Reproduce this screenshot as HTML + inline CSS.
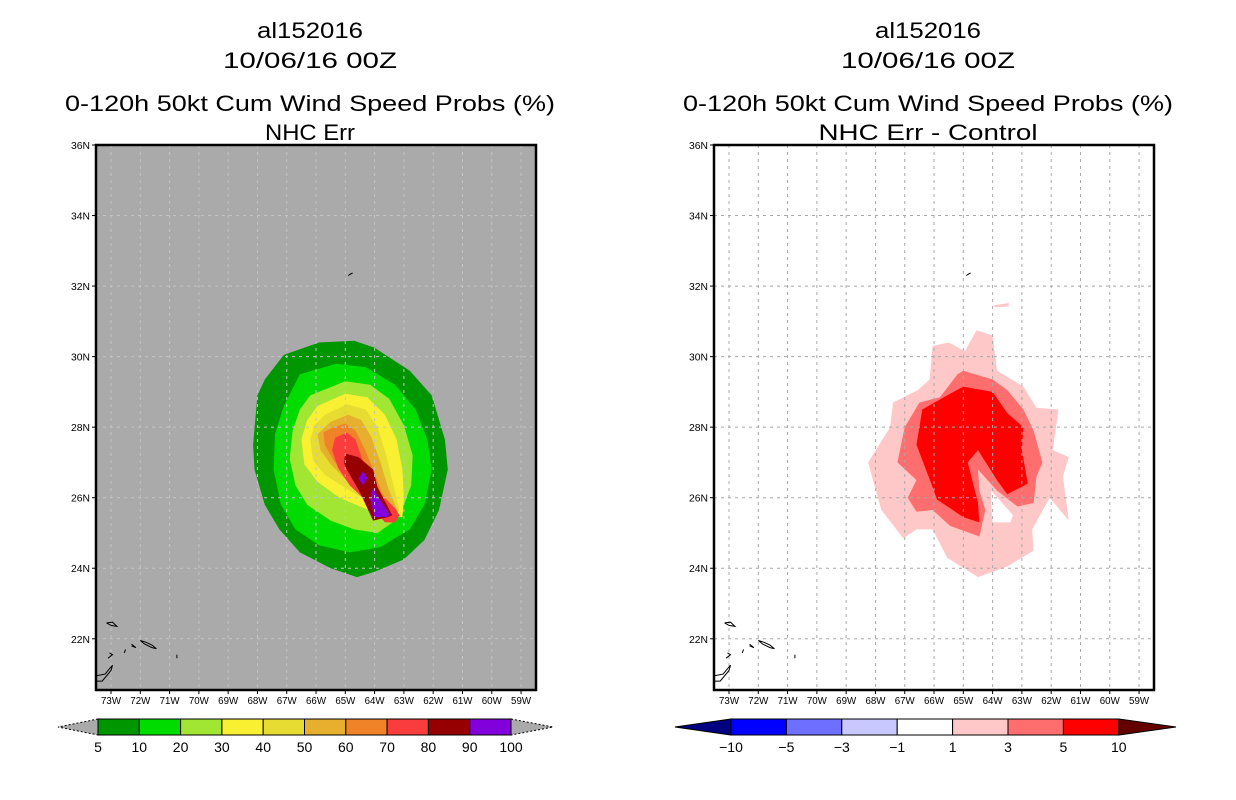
<!DOCTYPE html>
<html><head><meta charset="utf-8"><style>
html,body{margin:0;padding:0;background:#fff;}
svg{display:block;font-family:"Liberation Sans",sans-serif;}
</style></head><body>
<svg id="chart" width="1236" height="800" viewBox="0 0 1236 800" xmlns="http://www.w3.org/2000/svg"></svg>
<script>
// ---- data ----
const latTicks = [36,34,32,30,28,26,24,22];
const lonTicks = [-73,-72,-71,-70,-69,-68,-67,-66,-65,-64,-63,-62,-61,-60,-59];
const leftLevels = ["5","10","20","30","40","50","60","70","80","90","100"];
const leftColors = ["#009600","#00dc00","#a0e632","#faf032","#e6dc32","#e6af2d","#f08228","#fa3c3c","#960000","#8200dc"];
const rightLevels = ["-10","-5","-3","-1","1","3","5","10"];
const rightColors = ["#0000ff","#6e6eff","#c8c8ff","#ffffff","#ffc8c8","#ff6e6e","#ff0000"];
const rightTipColors = ["#000080","#640000"];

// probability contour polygons [lon,lat]
const prob5 = [[-67.1,30.05],[-65.9,30.4],[-64.7,30.45],[-64,30.25],[-62.8,29.6],[-62.05,28.9],[-61.6,27.65],[-61.5,26.8],[-61.8,25.65],[-62.3,24.8],[-63,24.25],[-64,23.9],[-64.6,23.75],[-65.5,24],[-66.55,24.45],[-67.25,25.1],[-67.75,25.8],[-68.1,26.8],[-68.15,27.5],[-68,28.9],[-67.75,29.35]];
const prob10 = [[-66.55,29.5],[-65.3,29.8],[-64.3,29.7],[-63.3,29.2],[-62.6,28.5],[-62.2,27.65],[-62.05,26.8],[-62.3,25.8],[-62.8,25.1],[-63.8,24.6],[-64.85,24.45],[-65.9,24.65],[-66.7,25.1],[-67.2,25.8],[-67.45,26.8],[-67.4,27.8],[-67.1,28.6]];
const prob20 = [[-66.2,28.9],[-65,29.3],[-64.15,29.2],[-63.5,28.8],[-63,28.05],[-62.7,27.2],[-62.75,26.35],[-63,25.8],[-63.3,25.35],[-63.9,25],[-64.7,25.1],[-65.5,25.35],[-66.3,25.8],[-66.7,26.35],[-66.9,27.1],[-66.8,27.9],[-66.55,28.5]];
const prob30 = [[-65.95,28.6],[-65,28.95],[-64.25,28.85],[-63.65,28.35],[-63.25,27.65],[-63.05,26.8],[-63,25.95],[-63.05,25.45],[-63.5,25.45],[-64.35,25.7],[-65.2,26],[-65.95,26.45],[-66.4,26.95],[-66.5,27.65],[-66.3,28.2]];
const prob40 = [[-65.7,28.35],[-64.95,28.65],[-64.3,28.5],[-63.9,28],[-63.6,27.2],[-63.4,26.5],[-63.15,25.65],[-63.3,25.5],[-64,25.8],[-64.85,26.2],[-65.7,26.65],[-66.1,27.05],[-66.2,27.65],[-66.05,28.05]];
const prob50 = [[-65.5,28.15],[-64.9,28.35],[-64.45,28.2],[-64.1,27.7],[-63.8,27],[-63.55,26.3],[-63.2,25.6],[-63.5,25.5],[-64.15,25.95],[-64.9,26.45],[-65.5,26.95],[-65.85,27.35],[-65.95,27.8]];
const prob60 = [[-65.4,28],[-65,28.1],[-64.65,27.9],[-64.35,27.4],[-64.05,26.8],[-63.75,26.15],[-63.3,25.65],[-63.55,25.5],[-64.2,26],[-64.9,26.55],[-65.4,27.05],[-65.7,27.5],[-65.75,27.85]];
const prob70 = [[-65.35,27.7],[-64.95,27.85],[-64.65,27.65],[-64.45,27.15],[-64.15,26.55],[-63.8,26.1],[-63.3,25.7],[-63.15,25.5],[-63.3,25.3],[-63.65,25.3],[-64.15,25.8],[-64.85,26.35],[-65.25,26.85],[-65.45,27.35]];
const prob80 = [[-65,27.25],[-64.55,27.15],[-64.05,26.8],[-63.9,26.3],[-63.4,25.5],[-63.55,25.45],[-64.05,25.35],[-64.5,26.15],[-64.95,26.8],[-65.05,27]];
const prob90a = [[-64.05,26.3],[-63.9,26.05],[-63.5,25.55],[-63.55,25.45],[-64,25.45],[-64.15,25.95]];
const prob90b = [[-64.55,26.55],[-64.4,26.75],[-64.25,26.55],[-64.4,26.35]];

// difference contour polygons [lon,lat]
const diff1 = [[-64.55,30.75],[-64,30.6],[-63.85,29.6],[-62.95,29.15],[-62.5,28.55],[-61.75,28.5],[-61.95,27.35],[-61.4,27.15],[-61.6,26.6],[-61.4,25.35],[-62.05,26],[-62.65,25.1],[-62.6,24.5],[-63.5,24.05],[-64.5,23.75],[-65.55,24.3],[-66.05,25.1],[-66.6,25.1],[-67.05,24.85],[-67.8,25.65],[-68.25,27],[-67.5,28],[-67.4,28.7],[-66.55,29.05],[-66.15,29.35],[-66.05,30.3],[-65.5,30.4],[-64.95,30.15]];
const diff1b = [[-64,31.45],[-63.45,31.52],[-63.45,31.42],[-63.9,31.4]];
const diffHole = [[-64.05,26.2],[-63.3,25.5],[-63.4,25.3],[-64.0,25.3],[-64.05,25.8]];
const diff3 = [[-65.0,29.6],[-64.0,29.35],[-63.5,29.05],[-62.95,28.5],[-62.6,27.9],[-62.3,27],[-62.5,26.6],[-62.6,25.85],[-63.15,25.75],[-63.85,26.2],[-64.5,26.8],[-64.45,26.2],[-64.25,25.65],[-64.45,24.9],[-65.45,25.2],[-66.05,25.65],[-66.6,25.6],[-66.9,26],[-66.6,26.5],[-67.25,27],[-67,28],[-66.5,28.7],[-65.8,28.85],[-65.2,29.5]];
const diff10 = [[-65,29.15],[-64,29],[-63.5,28.4],[-62.95,28],[-63,27.35],[-62.8,26.4],[-63.5,26.1],[-63.85,26.5],[-64.5,27.35],[-64.85,27],[-64.5,25.85],[-64.45,25.3],[-65,25.45],[-65.9,25.95],[-66.05,26.3],[-66.6,27.5],[-66.4,28.5],[-65.45,28.95]];

// coastlines [lon,lat]
const coastBermuda = [[-64.9,32.3],[-64.75,32.37],[-64.85,32.33]];
const coastIslands = [
 [[-73.15,22.45],[-72.95,22.47],[-72.8,22.35],[-73.0,22.38],[-73.15,22.45]],
 [[-72.0,21.95],[-71.8,21.9],[-71.6,21.82],[-71.45,21.72],[-71.6,21.75],[-71.85,21.85],[-72.0,21.95]],
 [[-72.3,21.8],[-72.15,21.75],[-72.3,21.85]],
 [[-72.55,21.6],[-72.5,21.7]],
 [[-73.1,21.45],[-72.95,21.55],[-73.05,21.6]],
 [[-73.5,20.95],[-73.2,21.0],[-72.95,21.25],[-73.0,21.1],[-73.3,20.8],[-73.5,20.8]],
 [[-70.75,21.55],[-70.75,21.45]]
];

// ---- axes ----
const X0 = 96, W = 440, Y0 = 145, H = 545;
function lonX(off, lon){ return off + 111 - 96 + (lon + 73) * 29.29; }
function latY(lat){ return Y0 + (36 - lat) * 35.27; }

const svg = document.getElementById('chart');
const NS = 'http://www.w3.org/2000/svg';
function mk(tag, attrs, parent){
  const e = document.createElementNS(NS, tag);
  for (const k in attrs) e.setAttribute(k, attrs[k]);
  (parent || svg).appendChild(e);
  return e;
}
function pts(off, arr){ return arr.map(p => lonX(off, p[0]).toFixed(1) + ',' + latY(p[1]).toFixed(1)).join(' '); }
function txt(x, y, s, size, anchor, w, parent){
  const t = mk('text', {x:x, y:y, 'font-size':size, 'text-anchor':anchor||'middle', fill:'#000'}, parent);
  if (w){ t.setAttribute('textLength', w); t.setAttribute('lengthAdjust','spacingAndGlyphs'); }
  t.textContent = s;
  return t;
}

function panel(off, name, sub, subW, bg){
  const g = mk('g', {});
  
  
  const cx = off + 214;
  const t1 = txt(cx, 38, 'al152016', 22, 'middle', 106, g);
   
  const t2 = txt(cx, 68, '10/06/16 00Z', 22, 'middle', 174, g);
   
  const t3 = txt(cx, 111, '0-120h 50kt Cum Wind Speed Probs (%)', 22, 'middle', 490, g);
   
  const t4 = txt(cx, 140, sub, 22, 'middle', subW, g);
   

  const cp = mk('clipPath', {id: 'clip' + off}, g);
  mk('rect', {x: off, y: Y0, width: W, height: H}, cp);
  const bgR = mk('rect', {x: off, y: Y0, width: W, height: H, fill: bg}, g);
   
  const m = mk('g', {'clip-path': 'url(#clip' + off + ')'}, g);
   
  return {g: g, m: m};
}

function poly(parent, off, arr, fill, name){
  const p = mk('polygon', {points: pts(off, arr), fill: fill}, parent);
  
  
}

function finish(P, off, gridColor){
  const gg = mk('g', {stroke: gridColor, 'stroke-width': 1, 'stroke-dasharray': '3,4', fill: 'none'}, P.m);
   
  lonTicks.forEach(l => { const x = lonX(off, l); mk('line', {x1: x, y1: Y0, x2: x, y2: Y0 + H}, gg); });
  latTicks.forEach(l => { const y = latY(l); mk('line', {x1: off, y1: y, x2: off + W, y2: y}, gg); });
  const cg = mk('g', {stroke: '#000', 'stroke-width': 1, fill: 'none'}, P.m);
   
  mk('polyline', {points: pts(off, coastBermuda)}, cg);
  coastIslands.forEach(c => mk('polyline', {points: pts(off, c)}, cg));
  const fr = mk('rect', {x: off, y: Y0, width: W, height: H, fill: 'none', stroke: '#000', 'stroke-width': 2.5}, P.g);
   
  const ya = mk('g', {}, P.g);
   
  latTicks.forEach(l => {
    const y = latY(l);
    mk('line', {x1: off - 4, y1: y, x2: off, y2: y, stroke: '#000', 'stroke-width': 1}, ya);
    const t = txt(off - 6, y + 4, l + 'N', 10, 'end', 19, ya);
     
  });
  const xa = mk('g', {}, P.g);
   
  lonTicks.forEach(l => {
    const x = lonX(off, l);
    mk('line', {x1: x, y1: Y0 + H, x2: x, y2: Y0 + H + 4, stroke: '#000', 'stroke-width': 1}, xa);
    const t = txt(x, 704, (-l) + 'W', 10, 'middle', 20, xa);
     
  });
}

// ---- left panel ----
const L = panel(96, 'probability', 'NHC Err', 90, '#aaaaaa');
const probs = [prob5, prob10, prob20, prob30, prob40, prob50, prob60, prob70, prob80, prob90a];
probs.forEach((p, i) => poly(L.m, 96, p, leftColors[i], 'contour-' + leftLevels[i] + 'pct'));
poly(L.m, 96, prob90b, leftColors[9], 'contour-90pct-small');
finish(L, 96, '#c4c4c4');

// left colorbar
const cb1 = mk('g', {});
 
const bx0 = 98, bw = 41.3, by = 719, bh = 16;
const lt = mk('polygon', {points: `${bx0},${by} ${58},${by+bh/2} ${bx0},${by+bh}`, fill: '#aaaaaa', stroke: '#000', 'stroke-width': 1, 'stroke-dasharray': '2,2'}, cb1);
 
const rx = bx0 + bw * leftColors.length;
const rt = mk('polygon', {points: `${rx},${by} ${553},${by+bh/2} ${rx},${by+bh}`, fill: '#aaaaaa', stroke: '#000', 'stroke-width': 1, 'stroke-dasharray': '2,2'}, cb1);
 
leftColors.forEach((c, i) => {
  const r = mk('rect', {x: bx0 + i * bw, y: by, width: bw, height: bh, fill: c, stroke: '#000', 'stroke-width': 1}, cb1);
   
});
leftLevels.forEach((s, i) => {
  const t = txt(bx0 + i * bw, 752, s, 14, 'middle', null, cb1);
   
});

// ---- right panel ----
const R = panel(714, 'difference', 'NHC Err - Control', 219, '#ffffff');
poly(R.m, 714, diff1, rightColors[4], 'contour-diff-1');
poly(R.m, 714, diff1b, rightColors[4], 'contour-diff-1-small');
poly(R.m, 714, diffHole, '#ffffff', 'contour-diff-hole');
poly(R.m, 714, diff3, rightColors[5], 'contour-diff-3');
poly(R.m, 714, diff10, rightColors[6], 'contour-diff-5');
finish(R, 714, '#a8a8a8');

// right colorbar
const cb2 = mk('g', {});
 
const cx0 = 731, cw = 55.4;
const lt2 = mk('polygon', {points: `${cx0},${by} ${675},${by+bh/2} ${cx0},${by+bh}`, fill: rightTipColors[0], stroke: '#000', 'stroke-width': 1}, cb2);
 
const rx2 = cx0 + cw * rightColors.length;
const rt2 = mk('polygon', {points: `${rx2},${by} ${1176},${by+bh/2} ${rx2},${by+bh}`, fill: rightTipColors[1], stroke: '#000', 'stroke-width': 1}, cb2);
 
rightColors.forEach((c, i) => {
  const r = mk('rect', {x: cx0 + i * cw, y: by, width: cw, height: bh, fill: c, stroke: '#000', 'stroke-width': 1}, cb2);
   
});
rightLevels.forEach((s, i) => {
  const t = txt(cx0 + i * cw, 752, s.replace('-', '\u2212'), 14, 'middle', null, cb2);
   
});
</script>
</body></html>
